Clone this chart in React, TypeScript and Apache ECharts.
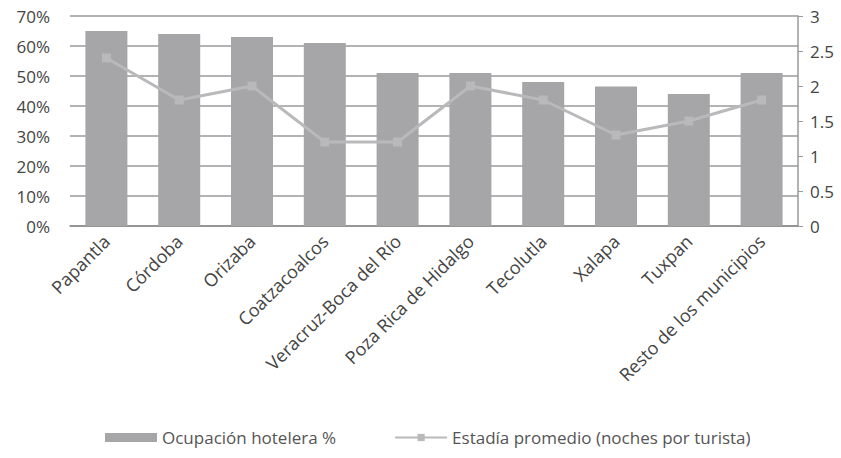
import React, { useEffect, useRef } from "react";
import * as echarts from "echarts";

const categories = [
  "Papantla",
  "Córdoba",
  "Orizaba",
  "Coatzacoalcos",
  "Veracruz-Boca del Río",
  "Poza Rica de Hidalgo",
  "Tecolutla",
  "Xalapa",
  "Tuxpan",
  "Resto de los municipios",
];
const ocupacion = [65, 64, 63, 61, 51, 51, 48, 46.5, 44, 51];
const estadia = [2.4, 1.8, 2.0, 1.2, 1.2, 2.0, 1.8, 1.3, 1.5, 1.8];

const FONT = "'Open Sans', 'Noto Sans', sans-serif";

export default function App() {
  const ref = useRef<HTMLDivElement>(null);
  useEffect(() => {
    if (!ref.current) return;
    const chart = echarts.init(ref.current, undefined, { renderer: "svg" });
    chart.setOption({
      animation: false,
      backgroundColor: "#ffffff",
      textStyle: { fontFamily: FONT },
      grid: { left: 70, right: 43, top: 16, bottom: 232 },
      legend: {
        top: 424,
        left: 100,
        itemGap: 58,
        itemWidth: 52,
        itemHeight: 9,
        textStyle: { fontSize: 17, color: "#555", fontFamily: FONT },
        data: [
          { name: "Ocupación hotelera %", icon: "rect" },
          { name: "Estadía promedio (noches por turista)" },
        ],
      },
      xAxis: {
        type: "category",
        data: categories,
        axisTick: { show: false },
        axisLine: { show: true, lineStyle: { color: "#8c8c8c", width: 1.5 } },
        axisLabel: {
          rotate: 45,
          fontSize: 18,
          color: "#444",
          interval: 0,
          margin: 12,
          fontFamily: FONT,
        },
      },
      yAxis: [
        {
          type: "value",
          min: 0,
          max: 70,
          interval: 10,
          axisLine: { show: false },
          axisTick: { show: false },
          axisLabel: { formatter: "{value}%", fontSize: 17, color: "#444", margin: 20 },
          splitLine: { lineStyle: { color: "#9a9a9a", width: 1.5 } },
        },
        {
          type: "value",
          min: 0,
          max: 3,
          interval: 0.5,
          position: "right",
          axisLine: { show: true, lineStyle: { color: "#9a9a9a", width: 1.5 } },
          axisTick: { show: true, length: 5, lineStyle: { color: "#9a9a9a" } },
          axisLabel: { fontSize: 17, color: "#444", margin: 12 },
          splitLine: { show: false },
        },
      ],
      series: [
        {
          name: "Ocupación hotelera %",
          type: "bar",
          data: ocupacion,
          barWidth: 42,
          itemStyle: { color: "#a6a6a8" },
          z: 2,
        },
        {
          name: "Estadía promedio (noches por turista)",
          type: "line",
          yAxisIndex: 1,
          data: estadia,
          symbol: "rect",
          symbolSize: 9,
          lineStyle: { color: "#b9b9bb", width: 3 },
          itemStyle: { color: "#b9b9bb" },
          z: 3,
        },
      ],
    });
    return () => chart.dispose();
  }, []);
  return (
    <div
      ref={ref}
      style={{ position: "absolute", left: 0, top: 0, width: 841, height: 458 }}
    />
  );
}
